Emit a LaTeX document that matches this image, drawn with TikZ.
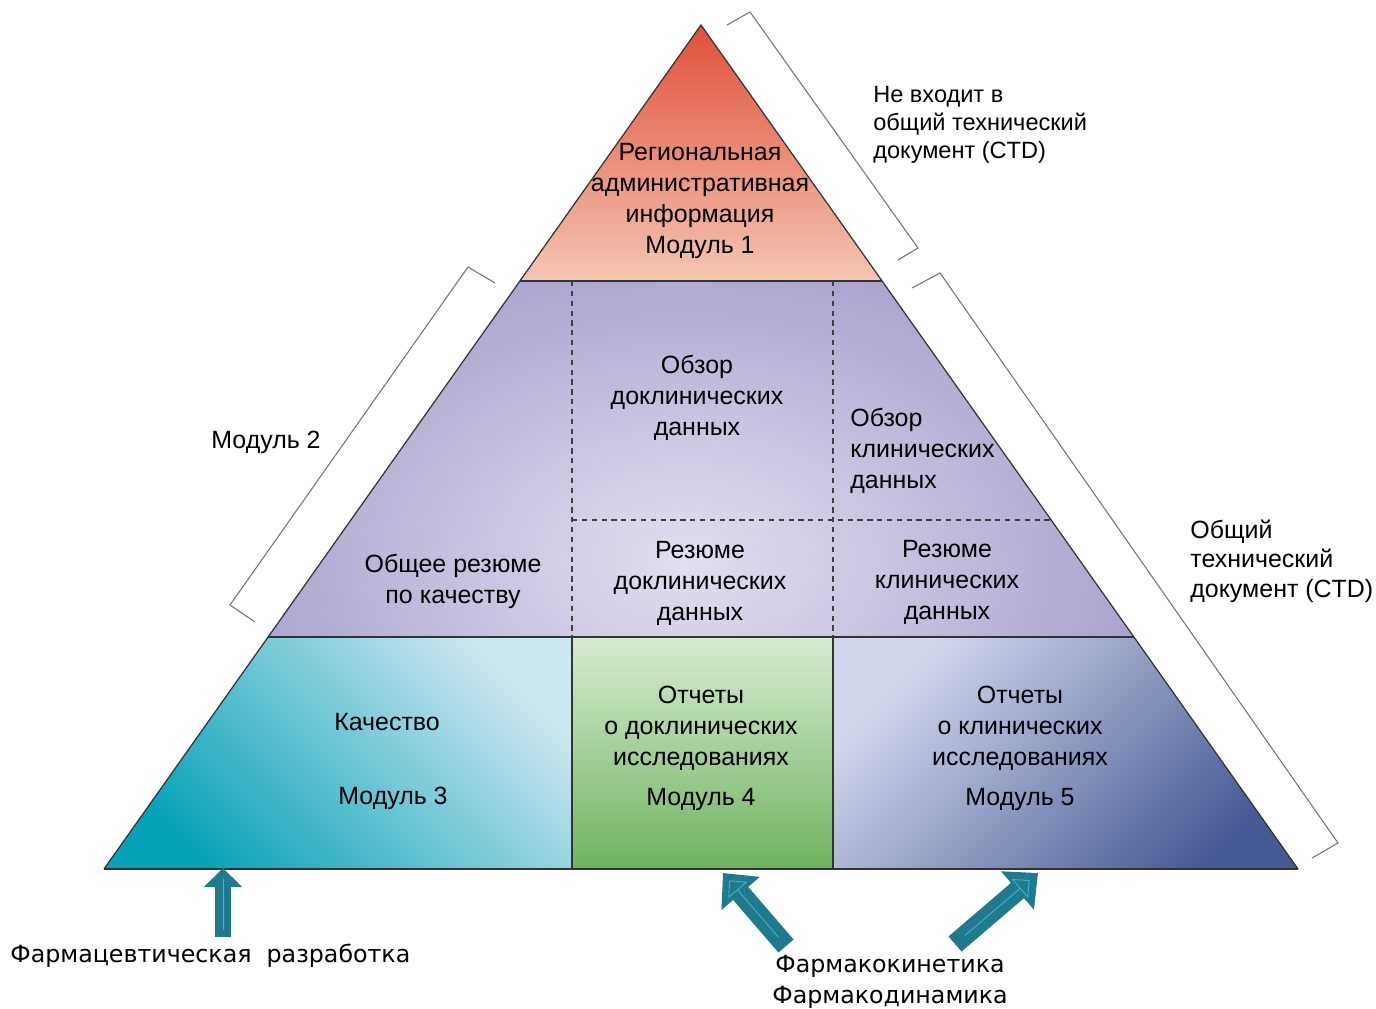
\documentclass[tikz,border=0pt]{standalone}
\usepackage{fontspec}
\setmainfont{Liberation Sans}
\newfontfamily\labelfont{DejaVu Sans}
\usepackage{tikz}
\usetikzlibrary{arrows.meta,calc}
\definecolor{regionred}{HTML}{E0503A}
\definecolor{regionpale}{HTML}{F4C6B2}
\definecolor{summaryside}{HTML}{958BC0}
\definecolor{summarycore}{HTML}{E2DFEF}
\definecolor{qualitydark}{HTML}{06A2B8}
\definecolor{qualitylight}{HTML}{CCE7EF}
\definecolor{nonclinlight}{HTML}{D8EBD1}
\definecolor{nonclindark}{HTML}{6DB45E}
\definecolor{clinlight}{HTML}{D2D8EB}
\definecolor{clindark}{HTML}{485A96}
\definecolor{arrowteal}{HTML}{1F7A8E}
\definecolor{arrowglint}{HTML}{3FB4CD}

\begin{document}
\begin{tikzpicture}[x=0.2mm,y=-0.2mm,
  edge/.style={draw=black!80,line width=0.7pt},
  divider/.style={draw=black!75,line width=0.7pt,dash pattern=on 3pt off 2.6pt},
  brace/.style={draw=black!55,line width=0.6pt},
  tier/.style={inner sep=0pt,align=center,font=\fontsize{14.2}{17.6}\selectfont},
  side/.style={inner sep=0pt,align=left,anchor=west,font=\fontsize{13.4}{15.9}\selectfont},
  pharm/.style={inner sep=0pt,align=center,font=\labelfont\fontsize{13.5}{17.6}\selectfont},
  block/.style={draw=arrowteal,line width=3.2mm,-{Triangle[length=3.8mm,width=7.4mm]}},
  wideblock/.style={draw=arrowteal,line width=4mm,-{Triangle[length=5.4mm,width=9.8mm]}},
  glint/.style={draw=arrowglint,line width=0.5pt,-{Triangle[open,length=2.6mm,width=5mm]}}
]
\useasboundingbox (0,0) rectangle (1376,1009);

% corners of the pyramid
\coordinate (apex) at (701,25);
\coordinate (bl) at (104,869);
\coordinate (br) at (1298,869);

% tiers, shaded
\shade[top color=regionred,bottom color=regionpale] (apex) -- (882,281) -- (520,281) -- cycle;
\begin{scope}
  \clip (520,281) -- (882,281) -- (1134,637) -- (268,637) -- cycle;
  \shade[inner color=summarycore,outer color=summaryside] (50,130) rectangle (1320,990);
\end{scope}
\shade[bottom color=qualitydark,top color=qualitylight,middle color=qualitydark!50!qualitylight,shading angle=-45]
  (268,637) -- (572,637) -- (572,869) -- (bl) -- cycle;
\shade[top color=nonclinlight,bottom color=nonclindark] (572,637) rectangle (833,869);
\shade[bottom color=clindark,top color=clinlight,shading angle=45]
  (833,637) -- (1134,637) -- (br) -- (833,869) -- cycle;

% outline and cells
\draw[edge] (bl) -- (apex) -- (br);
\draw[edge,line width=1.4pt] (bl) -- (br);
\draw[edge] (520,281) -- (882,281);
\draw[edge] (268,637) -- (1134,637);
\draw[edge] (572,637) -- (572,869);
\draw[edge] (833,637) -- (833,869);
\draw[divider] (572,281) -- (572,637);
\draw[divider] (833,281) -- (833,637);
\draw[divider] (572,520) -- (1051,520);

% brackets
\draw[brace] (727,25) -- (750,12) -- (918,248) -- (898,260);
\draw[brace] (495,283) -- (468,267) -- (230,605) -- (255,622);
\draw[brace] (912,288) -- (940,273) -- (1338,843) -- (1312,858);

% text in the tiers
\node[tier] (regional) at (700,201) {Региональная\\административная\\информация\\Модуль 1};
\node[tier] (ncoverview) at (697,398) {Обзор\\доклинических\\данных};
\node[tier,align=left,anchor=west] (cloverview) at (850,451) {Обзор\\клинических\\данных};
\node[tier] (ncsummary) at (700,583) {Резюме\\доклинических\\данных};
\node[tier] (clsummary) at (947,582) {Резюме\\клинических\\данных};
\node[tier] (qsummary) at (453,581) {Общее резюме\\по качеству};
\node[tier] (quality) at (387,722) {Качество};
\node[tier] (mod3) at (393,798) {Модуль 3};
\node[tier] (ncreports) at (701,728) {Отчеты\\о доклинических\\исследованиях};
\node[tier] (mod4) at (701,799) {Модуль 4};
\node[tier] (clreports) at (1020,728) {Отчеты\\о клинических\\исследованиях};
\node[tier] (mod5) at (1020,799) {Модуль 5};

% labels outside
\node[side] (notctd) at (873,125) {Не входит в\\общий технический\\документ (CTD)};
\node[tier] (mod2) at (266,442) {Модуль 2};
\node[side,font=\fontsize{14.2}{16.7}\selectfont] (ctd) at (1190,561) {Общий\\технический\\документ (CTD)};
\node[pharm,anchor=west] (devel) at (10,956) {Фармацевтическая\ \ разработка};
\node[pharm] (pkpd) at (890,982) {Фармакокинетика\\Фармакодинамика};

% arrows up to the base
\coordinate (devel foot) at (223,937);
\coordinate (devel tip) at (223,868);
\coordinate (pk foot) at (786,946);
\coordinate (pk tip) at (723,873);
\coordinate (pd foot) at (955,944);
\coordinate (pd tip) at (1038,873);
\draw[block] (devel foot) -- (devel tip);
\draw[wideblock] (pk foot) -- (pk tip);
\draw[wideblock] (pd foot) -- (pd tip);
\draw[glint,-] ($(devel foot)!0.1!(devel tip)$) -- ($(devel foot)!0.85!(devel tip)$);
\draw[glint] ($(pk foot)!0.12!(pk tip)$) -- ($(pk foot)!0.9!(pk tip)$);
\draw[glint] ($(pd foot)!0.12!(pd tip)$) -- ($(pd foot)!0.9!(pd tip)$);
\end{tikzpicture}
\end{document}
